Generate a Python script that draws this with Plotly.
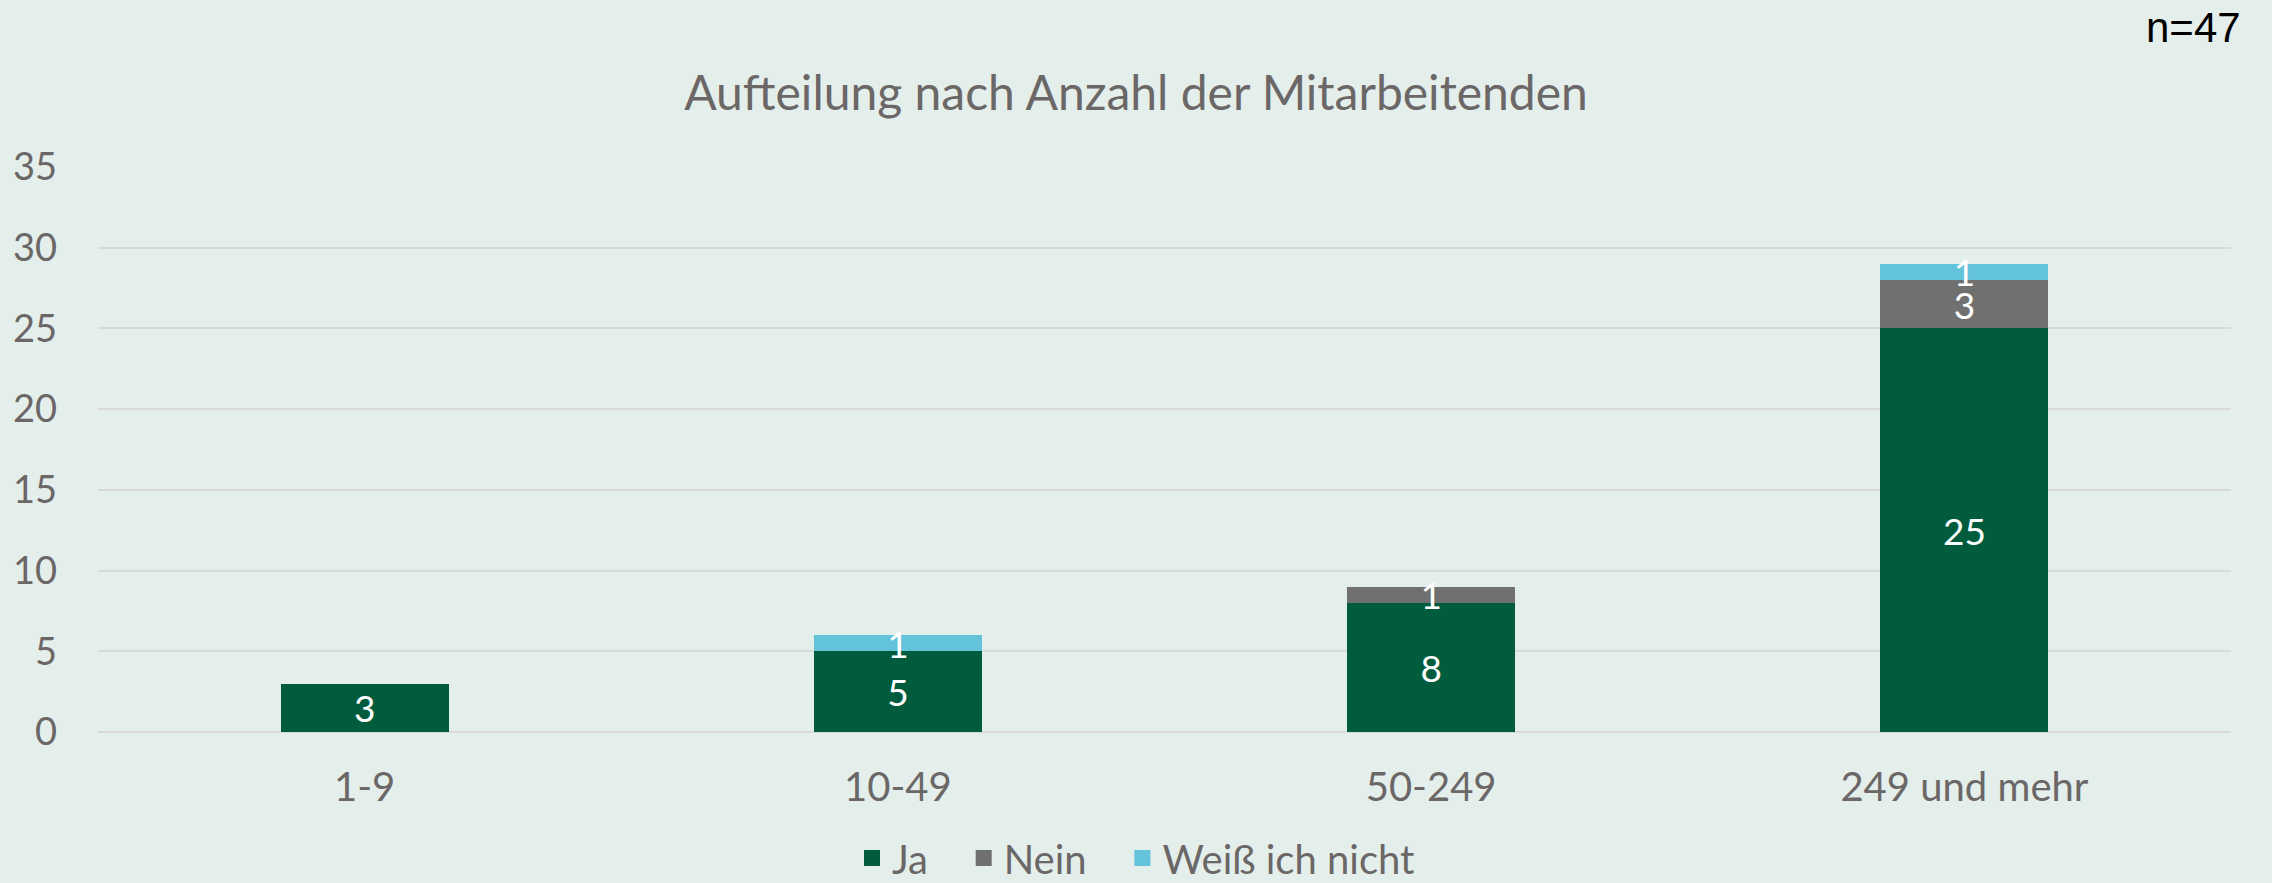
import plotly.graph_objects as go

categories = ["1-9", "10-49", "50-249", "249 und mehr"]
ja = [3, 5, 8, 25]
nein = [0, 0, 1, 3]
weiss = [0, 1, 0, 1]
series_names = ["Ja", "Nein", "Weiß ich nicht"]
colors = ["#005C3D", "#707070", "#62C3DB"]
y_ticks = [0, 5, 10, 15, 20, 25, 30, 35]
title_text = "Aufteilung nach Anzahl der Mitarbeitenden"
n_text = "n=47"

FONT = "Lato"
TXT = "#6B6767"
NB = "\u00a0"

fig = go.Figure()
for name, vals, col in zip(series_names, [ja, nein, weiss], colors):
    fig.add_trace(go.Bar(
        x=categories, y=vals, name=name, marker_color=col, marker_line_width=0,
        text=[str(v) if v else "" for v in vals],
        textposition="inside", insidetextanchor="middle", textangle=0,
        textfont=dict(color="white", size=37, family=FONT),
        showlegend=False, legendgroup=name,
    ))
for i, (name, col) in enumerate(zip(series_names, colors)):
    fig.add_trace(go.Scatter(
        x=[None], y=[None], mode="markers", name=name + (NB * 3 if i < len(series_names) - 1 else ""),
        marker=dict(symbol="square", size=16, color=col, line_width=0),
        legendgroup=name, showlegend=True, hoverinfo="skip",
    ))

fig.update_layout(
    width=2272, height=883,
    barmode="stack", bargap=0.685,
    paper_bgcolor="#E4EEEB", plot_bgcolor="#E4EEEB",
    margin=dict(l=98, r=41, t=167, b=151),
    font=dict(family=FONT, color=TXT, size=38),
    uniformtext=dict(minsize=37, mode="show"),
    title=dict(text=title_text, x=0.5, xref="container", xanchor="center",
               y=1 - 93 / 883, yref="container", yanchor="middle",
               font=dict(size=48, color=TXT, family=FONT)),
    legend=dict(orientation="h", x=0.5, xref="container", xanchor="center",
                y=1 - 858 / 883, yref="container", yanchor="middle",
                traceorder="normal", itemwidth=30,
                font=dict(size=40, color=TXT, family=FONT),
                itemclick=False, itemdoubleclick=False, bgcolor="rgba(0,0,0,0)"),
    showlegend=True,
)
fig.update_xaxes(showgrid=False, showline=False, ticks="", tickfont=dict(size=40, color=TXT),
                 ticklabelstandoff=28)
fig.update_yaxes(range=[0, 35], tickvals=y_ticks, showgrid=True, gridcolor="#D9D9D9", gridwidth=2,
                 zeroline=True, zerolinecolor="#D9D9D9", zerolinewidth=2,
                 showline=False, ticks="", tickfont=dict(size=38, color=TXT), ticklabelstandoff=40)
fig.add_annotation(text=n_text, xref="paper", yref="paper", x=1, y=(732 - 27) / 565,
                   xanchor="right", yanchor="middle", xshift=12, showarrow=False,
                   font=dict(family="Liberation Sans", size=42, color="black"))

fig.write_html("out.html", config={"displayModeBar": False},
               post_script="document.body.style.margin='0';")
